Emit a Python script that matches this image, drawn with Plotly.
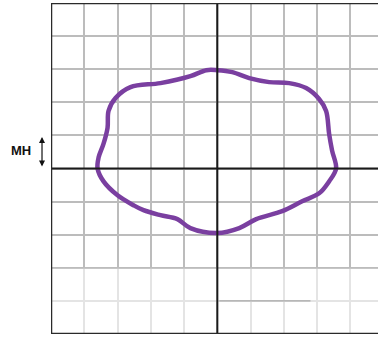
import plotly.graph_objects as go

# outline points (grid units, origin at the axes crossing)
curve_x = [0.0, 0.45, 0.96, 1.56, 2.16, 2.67, 3.06, 3.27, 3.36, 3.45, 3.57,
           3.36, 3.06, 2.55, 1.95, 1.17, 0.66, 0.0, -0.81, -1.2, -1.71, -2.22,
           -2.52, -3.0, -3.42, -3.6, -3.57, -3.42, -3.3, -3.27, -3.06, -2.61,
           -1.71, -0.81, -0.33, 0.0]
curve_y = [2.97, 2.91, 2.73, 2.61, 2.58, 2.43, 2.1, 1.74, 1.05, 0.54, 0.0,
           -0.39, -0.75, -0.99, -1.29, -1.53, -1.8, -1.95, -1.8, -1.53, -1.41,
           -1.26, -1.11, -0.81, -0.39, 0.0, 0.33, 0.75, 1.23, 1.74, 2.13, 2.46,
           2.58, 2.79, 2.97, 2.97]

label = "MH"

X_MIN, X_MAX = -5, 4.83
Y_MIN, Y_MAX = -5, 5

fig = go.Figure()
fig.add_trace(go.Scatter(x=curve_x, y=curve_y, mode='lines',
                         line=dict(color='#7a3fa0', width=4.5, shape='spline',
                                   smoothing=1.0),
                         hoverinfo='skip', showlegend=False))

shapes = []
# faded strip at the bottom
shapes.append(dict(type='rect', xref='x', yref='y', x0=X_MIN, x1=X_MAX,
                   y0=Y_MIN, y1=-3.03, fillcolor='rgba(255,255,255,0.6)',
                   line_width=0, layer='between'))
shapes.append(dict(type='line', xref='x', yref='y', x0=0.06, x1=2.8,
                   y0=-4, y1=-4, line=dict(color='#a8a8a8', width=1.2)))
# axes through origin
shapes.append(dict(type='line', xref='x', yref='y', x0=0, x1=0,
                   y0=Y_MIN, y1=Y_MAX, line=dict(color='#1a1a1a', width=2)))
shapes.append(dict(type='line', xref='x', yref='y', x0=X_MIN, x1=X_MAX,
                   y0=0, y1=0, line=dict(color='#1a1a1a', width=2)))
# frame (left, top, bottom)
shapes.append(dict(type='line', xref='x', yref='y', x0=X_MIN, x1=X_MIN,
                   y0=Y_MIN, y1=Y_MAX, line=dict(color='#2a2a2a', width=2.5)))
shapes.append(dict(type='line', xref='x', yref='y', x0=X_MIN, x1=X_MAX,
                   y0=Y_MAX, y1=Y_MAX, line=dict(color='#2a2a2a', width=2.5)))
shapes.append(dict(type='line', xref='x', yref='y', x0=X_MIN, x1=X_MAX,
                   y0=Y_MIN, y1=Y_MIN, line=dict(color='#2a2a2a', width=2.5)))

fig.update_layout(
    width=378, height=337,
    margin=dict(l=51, r=0, t=3, b=3),
    paper_bgcolor='white', plot_bgcolor='white',
    shapes=shapes,
    annotations=[
        dict(text='<b>' + label + '</b>', xref='paper', yref='y', x=-0.056,
             y=0.55, xanchor='right', yanchor='middle', showarrow=False,
             font=dict(family='Liberation Sans', size=13, color='#111')),
        dict(text='', xref='paper', yref='y', axref='pixel', ayref='pixel',
             x=-0.0275, y=0.95, ax=0, ay=31, showarrow=True,
             arrowhead=2, arrowside='end+start', arrowsize=1,
             arrowwidth=1.2, arrowcolor='#111', standoff=0, startstandoff=0),
    ],
)
fig.update_xaxes(range=[X_MIN, X_MAX], dtick=1, tick0=0, showgrid=True,
                 gridcolor='#bcbcbc', gridwidth=1.5, zeroline=False,
                 showticklabels=False, ticks='', fixedrange=True)
fig.update_yaxes(range=[Y_MIN, Y_MAX], dtick=1, tick0=0, showgrid=True,
                 gridcolor='#bcbcbc', gridwidth=1.5, zeroline=False,
                 showticklabels=False, ticks='', fixedrange=True)

fig.write_html("out.html", config={'displayModeBar': False},
               post_script="document.body.style.margin='0';")
